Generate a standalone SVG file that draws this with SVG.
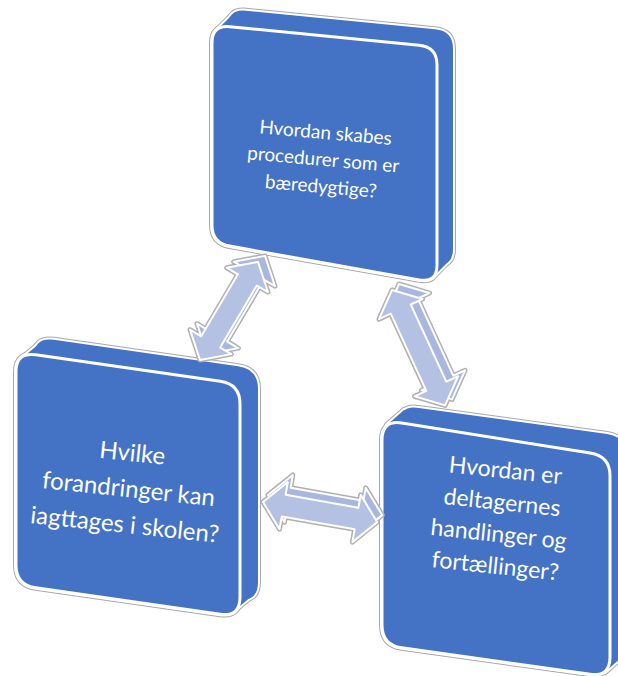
<svg xmlns="http://www.w3.org/2000/svg" xmlns:xlink="http://www.w3.org/1999/xlink" width="618" height="676" viewBox="0 0 618 676">
  <style>
    .edge { fill: none; stroke: #a8a8a8; stroke-width: 6; stroke-linejoin: round; }
    .halo { fill: none; stroke: #ffffff; stroke-width: 4; stroke-linejoin: round; }
    .solid { fill: #4472c4; stroke: none; }
    .face { fill: #4472c4; stroke: #ffffff; stroke-width: 3; }
    .a-edge { fill: none; stroke: #b0b0b0; stroke-width: 5; stroke-linejoin: round; }
    .a-side { fill: #a9b7de; stroke: #ffffff; stroke-width: 2; stroke-linejoin: round; }
    .a-face { fill: #b4c1e3; stroke: #ffffff; stroke-width: 2; stroke-linejoin: round; }
    .label { font-family: Lato, "Liberation Sans", sans-serif; fill: #ffffff; text-anchor: middle; }
  </style>
  <defs>
    <!-- extruded box bodies: back face, side bridge and front face -->
    <g id="body-top">
      <path d="M 228,27 Q 228,9 245.9,10.7 L 435.1,29.3 Q 453,31 453,49 L 453,249 Q 453,267 435.3,263.9 L 245.7,230.1 Q 228,227 228,209 Z"/>
      <polygon points="217,30 233,14 448,262 432,278"/>
      <path id="face-top" d="M 212,43 Q 212,25 229.9,26.7 L 419.1,45.3 Q 437,47 437,65 L 437,265 Q 437,283 419.3,279.9 L 229.7,246.1 Q 212,243 212,225 Z"/>
    </g>
    <g id="body-left">
      <path d="M 34,357 Q 34,337 53.8,339.8 L 238.2,366.2 Q 258,369 258,389 L 258,582 Q 258,602 238.2,599.2 L 53.8,572.8 Q 34,570 34,550 Z"/>
      <polygon points="22,358 40,343 252,596 234,611"/>
      <path id="face-left" d="M 16,372 Q 16,352 35.8,354.8 L 220.2,381.2 Q 240,384 240,404 L 240,597 Q 240,617 220.2,614.2 L 35.8,587.8 Q 16,585 16,565 Z"/>
    </g>
    <g id="body-right">
      <path d="M 399,425 Q 399,405 418.8,408 L 607.2,434 Q 627,437 627,457 L 627,642 Q 627,662 607.2,659.2 L 418.8,632.8 Q 399,630 399,610 Z"/>
      <polygon points="387,425 404,410 622,657 605,672"/>
      <path id="face-right" d="M 382,440 Q 382,420 401.8,423 L 590.2,453 Q 610,456 610,476 L 610,657 Q 610,677 590.2,674.2 L 401.8,647.8 Q 382,645 382,625 Z"/>
    </g>
    <!-- double-headed arrows laid out along +x -->
    <polygon id="arrow-a" points="0,0 21,-24 21,-11 93,-11 93,-24 114,0 93,24 93,11 21,11 21,24"/>
    <polygon id="arrow-b" points="0,0 21,-24 21,-11 106,-11 106,-24 127,0 106,24 106,11 21,11 21,24"/>
    <polygon id="arrow-c" points="0,0 21,-24 21,-11 95,-11 95,-24 116,0 95,24 95,11 21,11 21,24"/>
  </defs>

  <g id="node-top">
    <use xlink:href="#body-top" class="edge"/>
    <use xlink:href="#body-top" class="halo"/>
    <use xlink:href="#body-top" class="solid"/>
    <use xlink:href="#face-top" class="face"/>
    <g transform="rotate(5 323 163)">
      <text class="label" font-size="19" x="323" y="139">Hvordan skabes</text>
      <text class="label" font-size="19" x="323" y="166">procedurer som er</text>
      <text class="label" font-size="19" x="323" y="193">bæredygtige?</text>
    </g>
  </g>

  <g id="node-left">
    <use xlink:href="#body-left" class="edge"/>
    <use xlink:href="#body-left" class="halo"/>
    <use xlink:href="#body-left" class="solid"/>
    <use xlink:href="#face-left" class="face"/>
    <g transform="rotate(6 128 495)">
      <text class="label" font-size="24" x="128" y="461">Hvilke</text>
      <text class="label" font-size="24" x="128" y="497">forandringer kan</text>
      <text class="label" font-size="24" x="128" y="533">iagttages i skolen?</text>
    </g>
  </g>

  <g id="node-right">
    <use xlink:href="#body-right" class="edge"/>
    <use xlink:href="#body-right" class="halo"/>
    <use xlink:href="#body-right" class="solid"/>
    <use xlink:href="#face-right" class="face"/>
    <g transform="rotate(6 500 522)">
      <text class="label" font-size="23" x="500" y="478">Hvordan er</text>
      <text class="label" font-size="23" x="500" y="510">deltagernes</text>
      <text class="label" font-size="23" x="500" y="542">handlinger og</text>
      <text class="label" font-size="23" x="500" y="574">fortællinger?</text>
    </g>
  </g>

  <g id="connectors">
    <g transform="translate(200 360) rotate(-59.4)">
      <use xlink:href="#arrow-a" class="a-edge" transform="rotate(59.4) translate(7 -6) rotate(-59.4)"/>
      <use xlink:href="#arrow-a" class="a-edge"/>
      <use xlink:href="#arrow-a" class="a-side" transform="rotate(59.4) translate(7 -6) rotate(-59.4)"/>
      <use xlink:href="#arrow-a" class="a-face"/>
    </g>
    <g transform="translate(392 290) rotate(65.3)">
      <use xlink:href="#arrow-b" class="a-edge" transform="rotate(-65.3) translate(7 -6) rotate(65.3)"/>
      <use xlink:href="#arrow-b" class="a-edge"/>
      <use xlink:href="#arrow-b" class="a-side" transform="rotate(-65.3) translate(7 -6) rotate(65.3)"/>
      <use xlink:href="#arrow-b" class="a-face"/>
    </g>
    <g transform="translate(263 502) rotate(10)">
      <use xlink:href="#arrow-c" class="a-edge" transform="rotate(-10) translate(5 -7) rotate(10)"/>
      <use xlink:href="#arrow-c" class="a-edge"/>
      <use xlink:href="#arrow-c" class="a-side" transform="rotate(-10) translate(5 -7) rotate(10)"/>
      <use xlink:href="#arrow-c" class="a-face"/>
    </g>
  </g>
</svg>
